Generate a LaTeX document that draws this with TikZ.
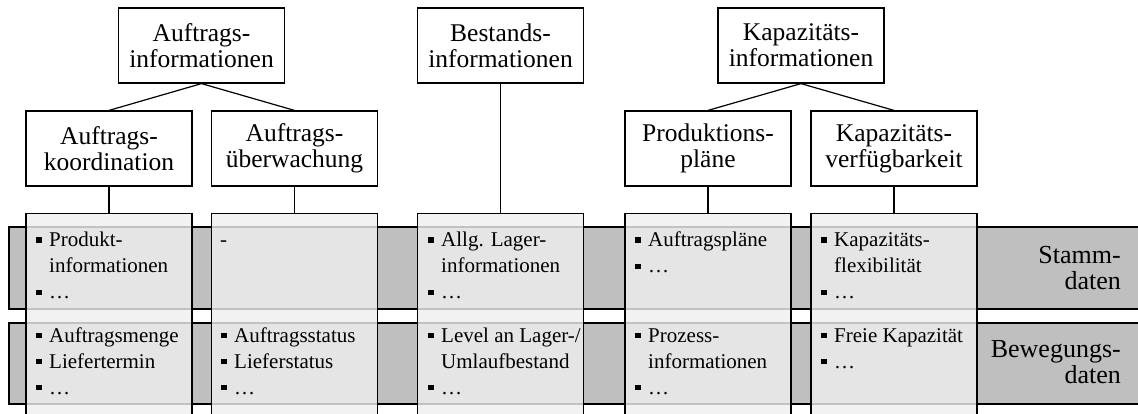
\documentclass[tikz,border=0pt]{standalone}
\usepackage{fontspec}
\setmainfont{Liberation Serif}
\definecolor{bandgray}{gray}{0.75}
\definecolor{colgray}{gray}{0.937}
% bullet item and continuation indent for the cell lists
\newcommand{\bul}{\makebox[23pt][l]{\hspace{10pt}\rule[4pt]{5.5pt}{5.5pt}}}
\newcommand{\ind}{\hspace*{23pt}}
\newcommand{\cellfont}{\fontsize{21}{26}\selectfont}
\newcommand{\celltext}[1]{\parbox[t]{200pt}{\cellfont\raggedright #1}}
\begin{document}
\begin{tikzpicture}[x=1pt,y=-1pt,
  head/.style={draw, line width=1.2pt, fill=white, minimum width=166pt,
    minimum height=75pt, inner sep=0pt, align=center,
    font=\fontsize{25.5}{26}\selectfont},
  band/.style={draw, line width=1.2pt, fill=bandgray},
  col/.style={draw, line width=1.2pt, fill=colgray, fill opacity=0.81,
    minimum width=166pt, minimum height=212pt, anchor=north, inner sep=0pt},
  link/.style={line width=1.2pt},
  cell/.style={anchor=base west, inner sep=0pt},
  bandlabel/.style={anchor=base east, inner sep=0pt}]
\useasboundingbox (0,0) rectangle (1138,414);

% horizontal data bands
\draw[band] (9,227) rectangle (1142,309);
\draw[band] (9,323) rectangle (1142,404);
\node[bandlabel] (stamm) at (1121,263)
  {\parbox[t]{150pt}{\fontsize{26}{26}\selectfont\raggedleft Stamm-\\daten}};
\node[bandlabel] (beweg) at (1121,357)
  {\parbox[t]{150pt}{\fontsize{26}{26}\selectfont\raggedleft Bewegungs-\\daten}};

% columns
\node[col] (c1) at (109,213) {};
\node[col] (c2) at (294.5,213) {};
\node[col] (c3) at (500.5,213) {};
\node[col] (c4) at (708,213) {};
\node[col] (c5) at (894,213) {};

% top level
\node[head] (ai) at (201.5,45.5) {Auftrags-\\informationen};
\node[head] (bi) at (500.5,45.5) {Bestands-\\informationen};
\node[head] (ki) at (801,45.5) {Kapazitäts-\\informationen};

% second level
\node[head] (ak) at (109,148.5) {Auftrags-\\koordination};
\node[head] (au) at (294.5,148.5) {Auftrags-\\überwachung};
\node[head] (pp) at (708,148.5) {Produktions-\\pläne};
\node[head] (kv) at (894,148.5) {Kapazitäts-\\verfügbarkeit};

% connectors
\draw[link] (ai.south) -- (ak.north);
\draw[link] (ai.south) -- (au.north);
\draw[link] (ki.south) -- (pp.north);
\draw[link] (ki.south) -- (kv.north);
\draw[link] (ak.south) -- (c1.north);
\draw[link] (au.south) -- (c2.north);
\draw[link] (bi.south) -- (c3.north);
\draw[link] (pp.south) -- (c4.north);
\draw[link] (kv.south) -- (c5.north);

% master data cells
\node[cell] (s1) at (26,247) {\celltext{\bul Produkt-\\\ind informationen\\\bul …}};
\node[cell] (s2) at (220,247) {\cellfont -};
\node[cell] (s3) at (418,247) {\celltext{\bul Allg. Lager-\\\ind informationen\\\bul …}};
\node[cell] (s4) at (625,247) {\celltext{\bul Auftragspläne\\\bul …}};
\node[cell] (s5) at (811,247) {\celltext{\bul Kapazitäts-\\\ind flexibilität\\\bul …}};

% transaction data cells
\node[cell] (b1) at (26,342) {\celltext{\bul Auftragsmenge\\\bul Liefertermin\\\bul …}};
\node[cell] (b2) at (211,342) {\celltext{\bul Auftragsstatus\\\bul Lieferstatus\\\bul …}};
\node[cell] (b3) at (418,342) {\celltext{\bul Level an Lager-/\\\ind Umlaufbestand\\\bul …}};
\node[cell] (b4) at (625,342) {\celltext{\bul Prozess-\\\ind informationen\\\bul …}};
\node[cell] (b5) at (811,342) {\celltext{\bul Freie Kapazität\\\bul …}};
\end{tikzpicture}
\end{document}
